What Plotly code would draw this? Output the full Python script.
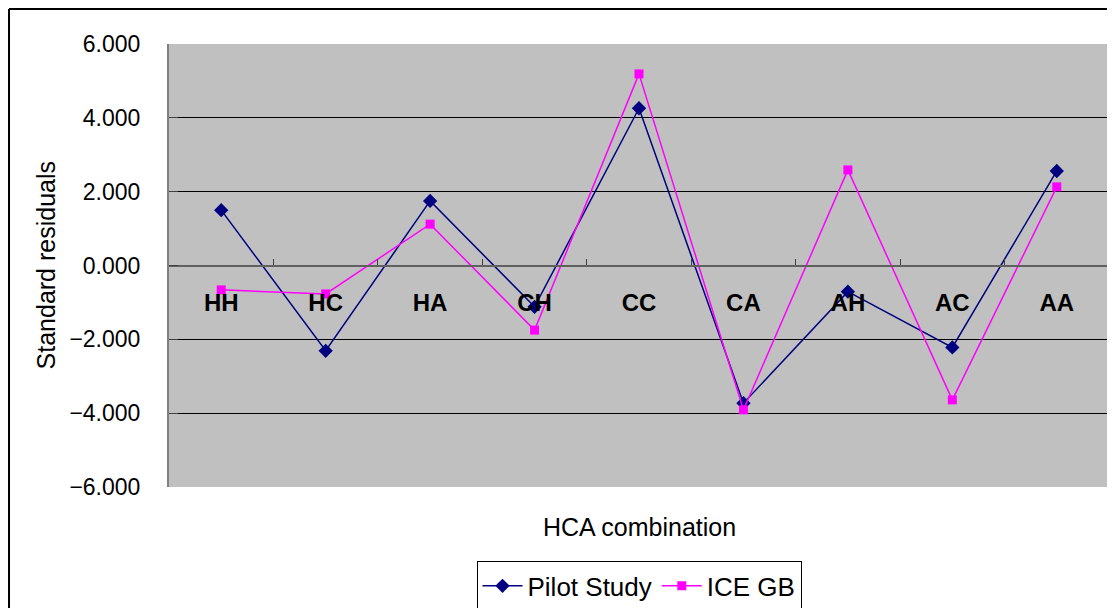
import plotly.graph_objects as go

categories = ["HH", "HC", "HA", "CH", "CC", "CA", "AH", "AC", "AA"]
pilot_study = [1.50, -2.31, 1.75, -1.12, 4.26, -3.73, -0.71, -2.22, 2.56]
ice_gb = [-0.66, -0.77, 1.12, -1.75, 5.19, -3.91, 2.59, -3.64, 2.13]
y_ticks = [-6, -4, -2, 0, 2, 4, 6]

FONT = "Liberation Sans, Arial, sans-serif"

fig = go.Figure()
fig.add_trace(go.Scatter(
    x=categories, y=pilot_study, name="Pilot Study", mode="lines+markers",
    line=dict(color="#000080", width=1.5),
    marker=dict(symbol="diamond", size=11, color="#000080"),
))
fig.add_trace(go.Scatter(
    x=categories, y=ice_gb, name="ICE GB", mode="lines+markers",
    line=dict(color="#FF00FF", width=1.5),
    marker=dict(symbol="square", size=9, color="#FF00FF"),
))

fig.update_layout(
    width=1115, height=608,
    margin=dict(l=161, r=14, t=36, b=129, autoexpand=False),
    paper_bgcolor="white",
    plot_bgcolor="#C0C0C0",
    font=dict(family=FONT, color="black", size=20),
    showlegend=True,
    legend=dict(
        orientation="h", x=0.5, xanchor="center", y=-0.168, yanchor="top",
        bordercolor="black", borderwidth=1, bgcolor="white",
        font=dict(size=26, family=FONT), itemwidth=40,
    ),
    xaxis=dict(
        type="category", anchor="free", position=0.5,
        range=[-0.5, len(categories) - 0.5],
        showgrid=False, zeroline=False, automargin=False,
        showline=True, linecolor="#606060", linewidth=2,
        ticks="inside", tickson="boundaries", ticklen=6, tickcolor="#404040",
        tickfont=dict(size=24, family=FONT, weight="bold"),
        ticklabelstandoff=16,
    ),
    yaxis=dict(
        range=[-6, 6], tickvals=y_ticks, tickformat=".3f",
        showgrid=True, gridcolor="black", gridwidth=1,
        zeroline=False, automargin=False,
        showline=True, linecolor="#808080", linewidth=2, mirror=True,
        ticks="inside", ticklen=9, tickcolor="#404040",
        tickfont=dict(size=23, family=FONT),
        ticklabelstandoff=22,
    ),
    annotations=[
        dict(text="HCA combination", xref="paper", yref="paper", x=0.5, y=-0.0903,
             showarrow=False, font=dict(size=25, family=FONT), xanchor="center", yanchor="middle"),
        dict(text="Standard residuals", xref="paper", yref="paper", x=-0.1309, y=0.5,
             showarrow=False, textangle=-90, font=dict(size=25, family=FONT),
             xanchor="center", yanchor="middle"),
    ],
    shapes=[
        dict(type="line", xref="paper", yref="paper", x0=-0.1702, x1=-0.1702, y0=-0.4, y1=1.079,
             line=dict(color="black", width=2)),
        dict(type="line", xref="paper", yref="paper", x0=-0.1702, x1=1.2, y0=1.079, y1=1.079,
             line=dict(color="black", width=2)),
    ],
)

fig.write_html("out.html")
